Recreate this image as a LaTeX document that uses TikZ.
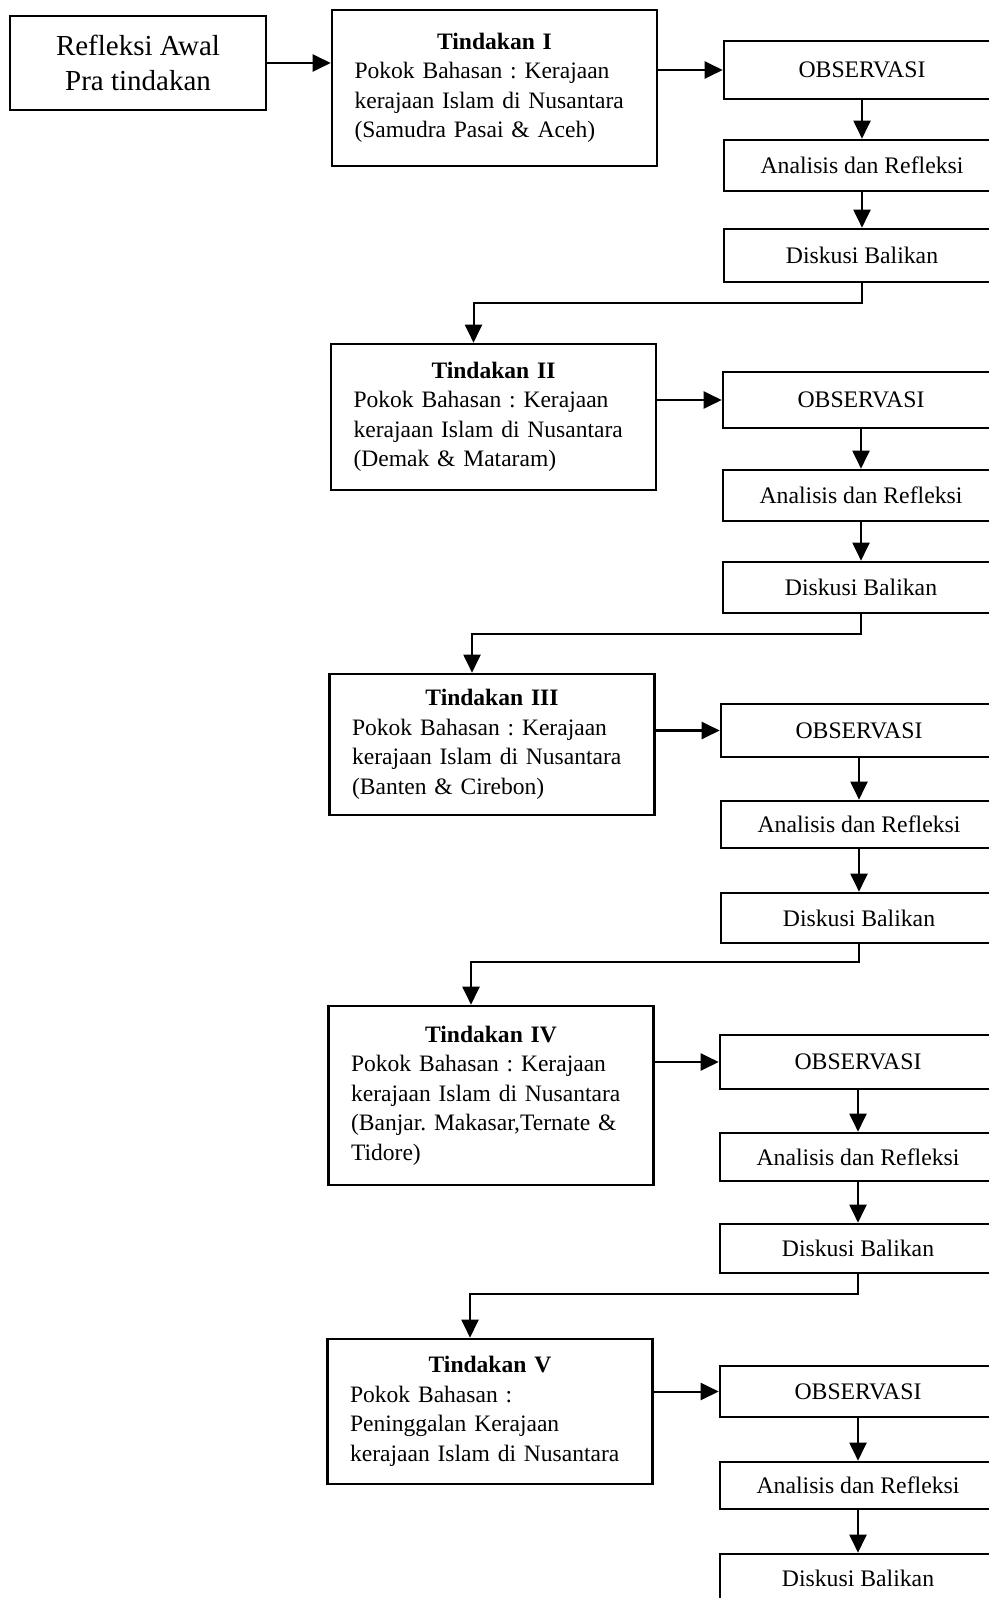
\documentclass[tikz,border=0pt]{standalone}
\usepackage{fontspec}
\setmainfont{Liberation Serif}
\usetikzlibrary{arrows.meta}
\newcommand{\judul}[1]{\makebox[\hsize][c]{\bfseries #1}\\}
\tikzset{
	kotak/.style={draw, line width=1.5pt, rectangle, inner sep=0pt},
	awal/.style={kotak, minimum width=5.12cm, minimum height=1.88cm, align=center, font=\fontsize{16.5}{20}\selectfont},
	tindakan/.style={kotak, minimum width=6.5cm, text width=5.6cm, align=left, font=\fontsize{13.4}{16.8}\selectfont\frenchspacing},
	langkah/.style={kotak, minimum width=5.52cm, font=\fontsize{13.5}{16}\selectfont},
	panah/.style={line width=1.15pt, -{Triangle[length=0.36cm,width=0.34cm]}}
}
\begin{document}
\begin{tikzpicture}[x=0.02cm, y=-0.02cm]
		\useasboundingbox (0,0) rectangle (989,1598);
		\clip (0,0) rectangle (989,1598);
		\node[awal] (awal) at (138,63) {Refleksi Awal\\Pra tindakan};
		\node[tindakan, minimum height=3.12cm] (t1) at (494.5,88) {\judul{Tindakan I}Pokok Bahasan : Kerajaan\\kerajaan Islam di Nusantara\\(Samudra Pasai \& Aceh)};
		\node[langkah, minimum height=1.16cm] (o1) at (862,70) {OBSERVASI};
		\node[langkah, minimum height=1.02cm] (a1) at (862,165.5) {Analisis dan Refleksi};
		\node[langkah, minimum height=1.06cm] (d1) at (862,255.5) {Diskusi Balikan};

		\node[tindakan, minimum height=2.92cm] (t2) at (493.5,417) {\judul{Tindakan II}Pokok Bahasan : Kerajaan\\kerajaan Islam di Nusantara\\(Demak \& Mataram)};
		\node[langkah, minimum height=1.12cm] (o2) at (861,400) {OBSERVASI};
		\node[langkah, minimum height=1.02cm] (a2) at (861,495.5) {Analisis dan Refleksi};
		\node[langkah, minimum height=1.02cm] (d2) at (861,587.5) {Diskusi Balikan};

		\node[tindakan, minimum height=2.82cm] (t3) at (492,744.5) {\judul{Tindakan III}Pokok Bahasan : Kerajaan\\kerajaan Islam di Nusantara\\(Banten \& Cirebon)};
		\node[langkah, minimum height=1.06cm] (o3) at (859,730.5) {OBSERVASI};
		\node[langkah, minimum height=0.94cm] (a3) at (859,824.5) {Analisis dan Refleksi};
		\node[langkah, minimum height=1.0cm] (d3) at (859,918) {Diskusi Balikan};

		\node[tindakan, minimum height=3.58cm] (t4) at (491,1095.5) {\judul{Tindakan IV}Pokok Bahasan : Kerajaan\\kerajaan Islam di Nusantara\\(Banjar. Makasar,Ternate \&\\Tidore)};
		\node[langkah, minimum height=1.08cm] (o4) at (858,1062) {OBSERVASI};
		\node[langkah, minimum height=0.96cm] (a4) at (858,1157) {Analisis dan Refleksi};
		\node[langkah, minimum height=0.98cm] (d4) at (858,1248.5) {Diskusi Balikan};

		\node[tindakan, minimum height=2.9cm] (t5) at (490,1411.5) {\judul{Tindakan V}Pokok Bahasan :\\Peninggalan Kerajaan\\kerajaan Islam di Nusantara};
		\node[langkah, minimum height=1.02cm] (o5) at (858,1391.5) {OBSERVASI};
		\node[langkah, minimum height=0.94cm] (a5) at (858,1485.5) {Analisis dan Refleksi};
		\node[langkah, minimum height=0.98cm] (d5) at (858,1578.5) {Diskusi Balikan};

		\draw[panah] (awal.east) -- (awal.east -| t1.west);
		\draw[panah] (t1.east |- o1.west) -- (o1.west);
		\draw[panah] (t2.east |- o2.west) -- (o2.west);
		\draw[panah] (t3.east |- o3.west) -- (o3.west);
		\draw[panah] (t4.east |- o4.west) -- (o4.west);
		\draw[panah] (t5.east |- o5.west) -- (o5.west);

		\draw[panah] (o1) -- (a1);
		\draw[panah] (a1) -- (d1);
		\draw[panah] (o2) -- (a2);
		\draw[panah] (a2) -- (d2);
		\draw[panah] (o3) -- (a3);
		\draw[panah] (a3) -- (d3);
		\draw[panah] (o4) -- (a4);
		\draw[panah] (a4) -- (d4);
		\draw[panah] (o5) -- (a5);
		\draw[panah] (a5) -- (d5);

		\draw[panah] (d1.south) -- ++(0,20) -| ([xshift=-0.4cm]t2.north);
		\draw[panah] (d2.south) -- ++(0,20) -| ([xshift=-0.4cm]t3.north);
		\draw[panah] (d3.south) -- ++(0,18) -| ([xshift=-0.4cm]t4.north);
		\draw[panah] (d4.south) -- ++(0,20) -| ([xshift=-0.4cm]t5.north);
	\end{tikzpicture}
\end{document}
